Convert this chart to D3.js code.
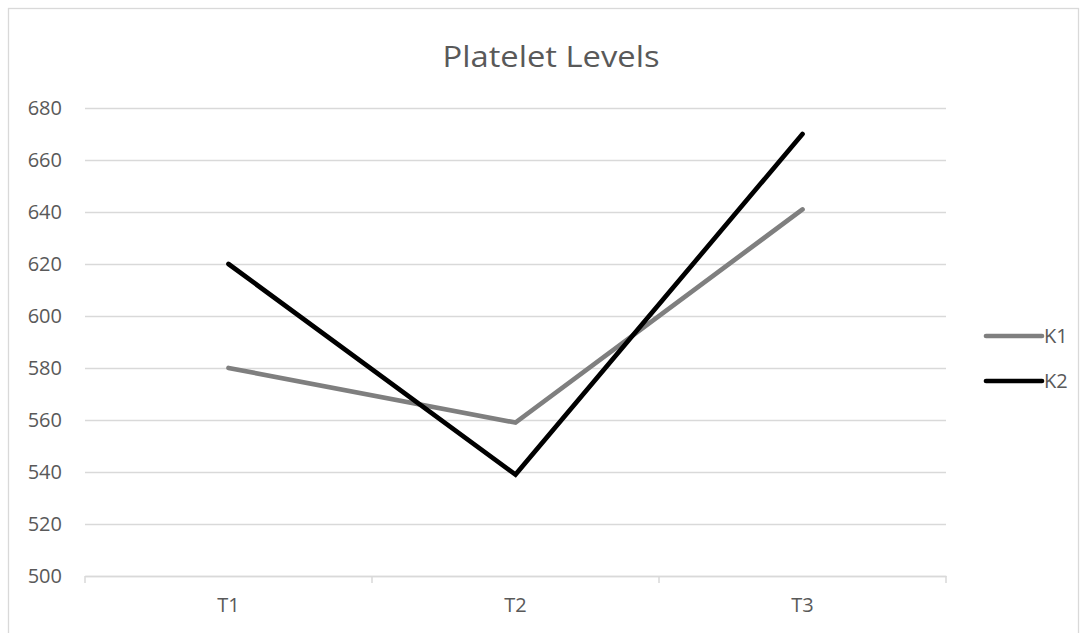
<!DOCTYPE html>
<html>
<head>
<meta charset="utf-8">
<script src="https://cdn.jsdelivr.net/npm/d3@7"></script>
<style>
  html, body { margin: 0; padding: 0; background: #fff; }
  svg { display: block; }
  text { font-family: "Open Sans", "Liberation Sans", sans-serif; fill: #595959; }
</style>
</head>
<body>
<script>
// Platelet levels at three time points for two groups
const categories = ["T1", "T2", "T3"];
const seriesNames = ["K1", "K2"];
const k1Values = [580, 559, 641];
const k2Values = [620, 539, 670];
const yTicks = [500, 520, 540, 560, 580, 600, 620, 640, 660, 680];
const chartTitle = "Platelet Levels";

const series = [
  { name: seriesNames[0], values: k1Values, color: "#7f7f7f" },
  { name: seriesNames[1], values: k2Values, color: "#000000" }
];

const W = 1087, H = 633;
const plot = { left: 85, right: 946, top: 108, bottom: 576 };

const svg = d3.select("body").append("svg")
  .attr("width", W).attr("height", H);

// chart frame
svg.append("rect")
  .attr("x", 8.5).attr("y", 8.5)
  .attr("width", 1070).attr("height", 640)
  .attr("fill", "#fff").attr("stroke", "#d9d9d9").attr("stroke-width", 1.3);

const x = d3.scaleBand().domain(categories).range([plot.left, plot.right]);
const y = d3.scaleLinear().domain([500, 680]).range([plot.bottom, plot.top]);

// horizontal gridlines with value labels
const yAxis = d3.axisLeft(y).tickValues(yTicks)
  .tickSize(-(plot.right - plot.left)).tickPadding(23);
const gy = svg.append("g").attr("transform", `translate(${plot.left},0)`).call(yAxis);
gy.select(".domain").remove();
gy.selectAll(".tick line").attr("stroke", "#d9d9d9").attr("stroke-width", 1.5);
gy.selectAll(".tick text")
  .attr("font-size", 20).attr("fill", "#595959")
  .style("font-family", "'Open Sans', sans-serif");

// category axis along the bottom
const xAxis = d3.axisBottom(x).tickSize(0).tickPadding(22);
const gx = svg.append("g").attr("transform", `translate(0,${plot.bottom})`).call(xAxis);
gx.select(".domain").attr("stroke", "#d9d9d9").attr("stroke-width", 1.5);
gx.selectAll(".tick text")
  .attr("font-size", 20).attr("fill", "#595959")
  .style("font-family", "'Open Sans', sans-serif");

// tick marks at band boundaries
const bounds = categories.map(c => x(c)).concat([x(categories[categories.length - 1]) + x.bandwidth()]);
svg.append("g").selectAll("line").data(bounds).join("line")
  .attr("x1", d => d).attr("x2", d => d)
  .attr("y1", plot.bottom).attr("y2", plot.bottom + 7)
  .attr("stroke", "#d9d9d9").attr("stroke-width", 1.5);

// series lines
const line = d3.line()
  .x((d, i) => x(categories[i]) + x.bandwidth() / 2)
  .y(d => y(d));

svg.append("g").selectAll("path").data(series).join("path")
  .attr("d", s => line(s.values))
  .attr("fill", "none")
  .attr("stroke", s => s.color)
  .attr("stroke-width", 4.7)
  .attr("stroke-linecap", "round")
  .attr("stroke-linejoin", "miter");

// title
svg.append("text")
  .attr("x", 551).attr("y", 67)
  .attr("text-anchor", "middle")
  .attr("font-size", 30)
  .attr("textLength", 217).attr("lengthAdjust", "spacingAndGlyphs")
  .text(chartTitle);

// legend
const legend = svg.append("g").selectAll("g").data(series).join("g")
  .attr("transform", (d, i) => `translate(986,${336 + i * 45})`);
legend.append("line")
  .attr("x1", 0).attr("x2", 56).attr("y1", 0).attr("y2", 0)
  .attr("stroke", d => d.color).attr("stroke-width", 4.7)
  .attr("stroke-linecap", "round");
legend.append("text")
  .attr("x", 58).attr("y", 0).attr("dy", "0.35em")
  .attr("font-size", 20)
  .text(d => d.name);
</script>
</body>
</html>
